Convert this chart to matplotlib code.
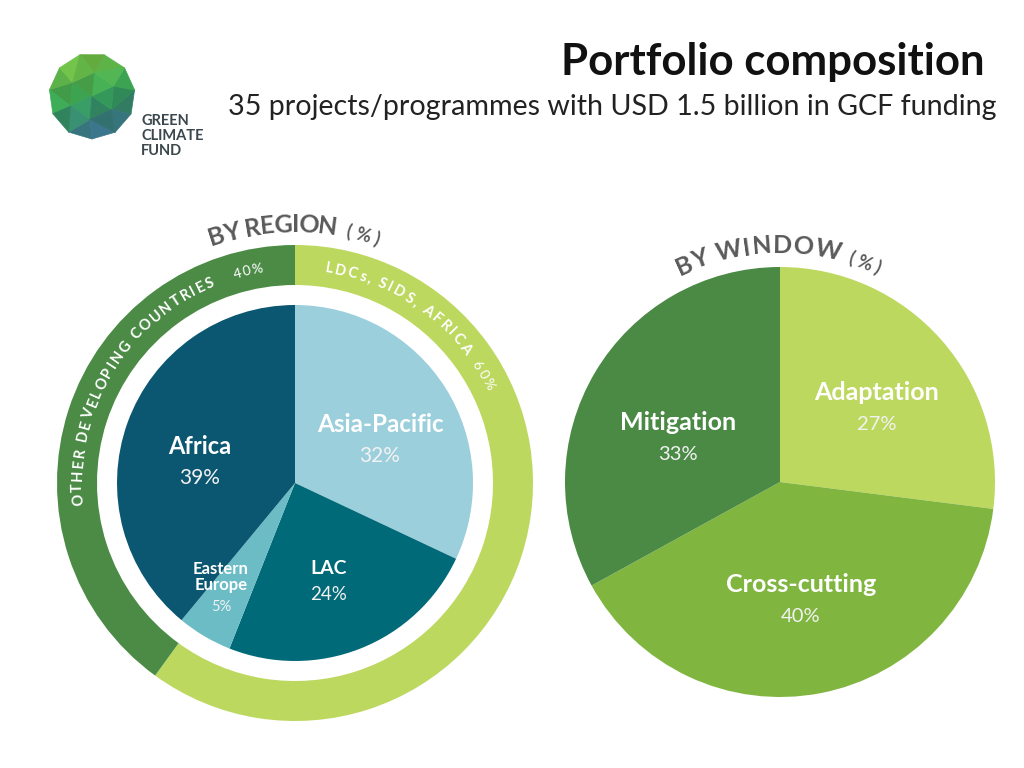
import numpy as np
import matplotlib.pyplot as plt
import matplotlib.tri as mtri
from matplotlib.collections import PolyCollection
from matplotlib.font_manager import FontProperties
from matplotlib.colors import to_rgb

plt.rcParams['font.family'] = ['Lato', 'DejaVu Sans']

# data
region_labels = ['Asia-Pacific', 'LAC', 'Eastern\nEurope', 'Africa']
region_values = [32, 24, 5, 39]
region_colors = ['#9bcfdc', '#006a79', '#6cbcc6', '#0b5670']

group_labels = ['LDCs, SIDS, AFRICA', 'OTHER DEVELOPING COUNTRIES']
group_values = [60, 40]
group_colors = ['#bdd85f', '#4b8b46']

window_labels = ['Adaptation', 'Cross-cutting', 'Mitigation']
window_values = [27, 40, 33]
window_colors = ['#bdd85f', '#80b540', '#4a8a45']

W, H = 1024, 768
fig = plt.figure(figsize=(10.24, 7.68), dpi=100)
ax = fig.add_axes([0, 0, 1, 1])

def py(y):
    # pixel row -> data y (y up)
    return H - y

# region chart
lc = (295, py(483))
ax.pie(group_values, radius=238, center=lc, startangle=90, counterclock=False,
       colors=group_colors, wedgeprops=dict(width=40, linewidth=0))
ax.pie(region_values, radius=178, center=lc, startangle=90, counterclock=False,
       colors=region_colors, wedgeprops=dict(linewidth=0))

# window chart
rc = (780, py(482))
ax.pie(window_values, radius=215, center=rc, startangle=90, counterclock=False,
       colors=window_colors, wedgeprops=dict(linewidth=0))

ax.set_xlim(0, W)
ax.set_ylim(0, H)
ax.set_aspect('equal')
ax.axis('off')

renderer = fig.canvas.get_renderer()

def advance(s, fp):
    # advance width of s, measured between two bars so spaces count
    w1 = renderer.get_text_width_height_descent('|' + s + '|', fp, ismath=False)[0]
    w0 = renderer.get_text_width_height_descent('||', fp, ismath=False)[0]
    return w1 - w0

def curved_text(s, center, r, a_start, a_end, size, color, weight='normal'):
    # lay characters clockwise along an arc from a_start to a_end (degrees),
    # with even letter spacing so the text fills the arc
    fp = FontProperties(family=['Lato', 'DejaVu Sans'], size=size, weight=weight)
    adv = np.array([advance(s[:i], fp) for i in range(len(s) + 1)])
    n = len(s)
    arc = r * np.radians(a_start - a_end)
    track = (arc - adv[-1]) / max(n - 1, 1)
    for i, ch in enumerate(s):
        if ch == ' ':
            continue
        m = (adv[i] + adv[i + 1]) / 2 + i * track
        a = np.radians(a_start) - m / r
        x = center[0] + r * np.cos(a)
        y = center[1] + r * np.sin(a)
        ax.text(x, y, ch, fontsize=size, color=color, weight=weight,
                rotation=np.degrees(a) - 90, rotation_mode='anchor',
                ha='center', va='baseline')

# ring labels
curved_text(group_labels[1], lc, 213, 186, 112, 10.5, 'white', 'bold')
curved_text(f'{group_values[1]}%', lc, 213, 106.5, 98.5, 10, 'white')
curved_text(group_labels[0], lc, 213, 82, 37, 10.5, 'white', 'bold')
curved_text(f'{group_values[0]}%', lc, 213, 34, 25.5, 10, 'white')

# chart headings
curved_text('BY REGION', lc, 251, 109.5, 80.5, 18, '#5a5a5a', 'bold')
curved_text('(%)', lc, 251, 78.5, 71, 13, '#5a5a5a', 'bold')
curved_text('BY WINDOW', rc, 229, 116, 75, 18, '#5a5a5a', 'bold')
curved_text('(%)', rc, 229, 73, 65, 13, '#5a5a5a', 'bold')

# slice labels: x, y, name size, value size, value offset
region_pos = [(380, 424, 17.5, 15, 32), (329, 569, 14, 13.5, 26),
              (221, 577, 12, 10.5, 30), (200, 446, 17, 15, 32)]
for lab, v, (x, y, s1, s2, dy) in zip(region_labels, region_values, region_pos):
    ax.text(x, py(y), lab, ha='center', va='center', fontsize=s1, color='white',
            weight='bold', linespacing=1.05)
    ax.text(x, py(y + dy), f'{v}%', ha='center', va='center',
            fontsize=s2, color='#f2f2f2')

window_pos = [(877, 393), (801, 585), (678, 422)]
for lab, v, (x, y) in zip(window_labels, window_values, window_pos):
    ax.text(x, py(y), lab, ha='center', va='center', fontsize=18, color='white', weight='bold')
    ax.text(x, py(y + 32), f'{v}%', ha='center', va='center', fontsize=14.5, color='#f2f2f2')

# title
ax.text(985, py(62), 'Portfolio composition', ha='right', va='center',
        fontsize=31.5, weight='bold', color='#111111')
ax.text(996, py(107), '35 projects/programmes with USD 1.5 billion in GCF funding',
        ha='right', va='center', fontsize=20.6, color='#222222')

# logo
cx, cy, R = 92, py(96), 43
ang_o = np.radians(np.arange(11) * 360 / 11 + 8)
ang_i = np.radians(np.arange(6) * 60 + 25)
px = np.concatenate([R * np.cos(ang_o), 0.55 * R * np.cos(ang_i), [0]]) + cx
pyy = np.concatenate([R * np.sin(ang_o), 0.55 * R * np.sin(ang_i), [0]]) + cy
tri = mtri.Triangulation(px, pyy)
top = np.array(to_rgb('#7cc443'))
mid = np.array(to_rgb('#35a456'))
bot = np.array(to_rgb('#3a6890'))
polys, cols = [], []
for i, t in enumerate(tri.triangles):
    xs, ys = px[t], pyy[t]
    k = np.clip((cy + R - ys.mean()) / (2 * R) + 0.15 * (xs.mean() - cx) / R, 0, 1)
    c = top + (mid - top) * k / 0.5 if k < 0.5 else mid + (bot - mid) * (k - 0.5) / 0.5
    c = np.clip(c * (0.9 + 0.07 * (i % 3)), 0, 1)
    polys.append(np.column_stack([xs, ys]))
    cols.append(c)
ax.add_collection(PolyCollection(polys, facecolors=cols, edgecolors=cols, linewidths=0.5))
for j, word in enumerate(['GREEN', 'CLIMATE', 'FUND']):
    ax.text(141, py(121 + 15 * j), word, ha='left', va='center', fontsize=10.5,
            color='#3b474d', weight='bold')

fig.savefig('out.png', dpi=100, facecolor='white')
